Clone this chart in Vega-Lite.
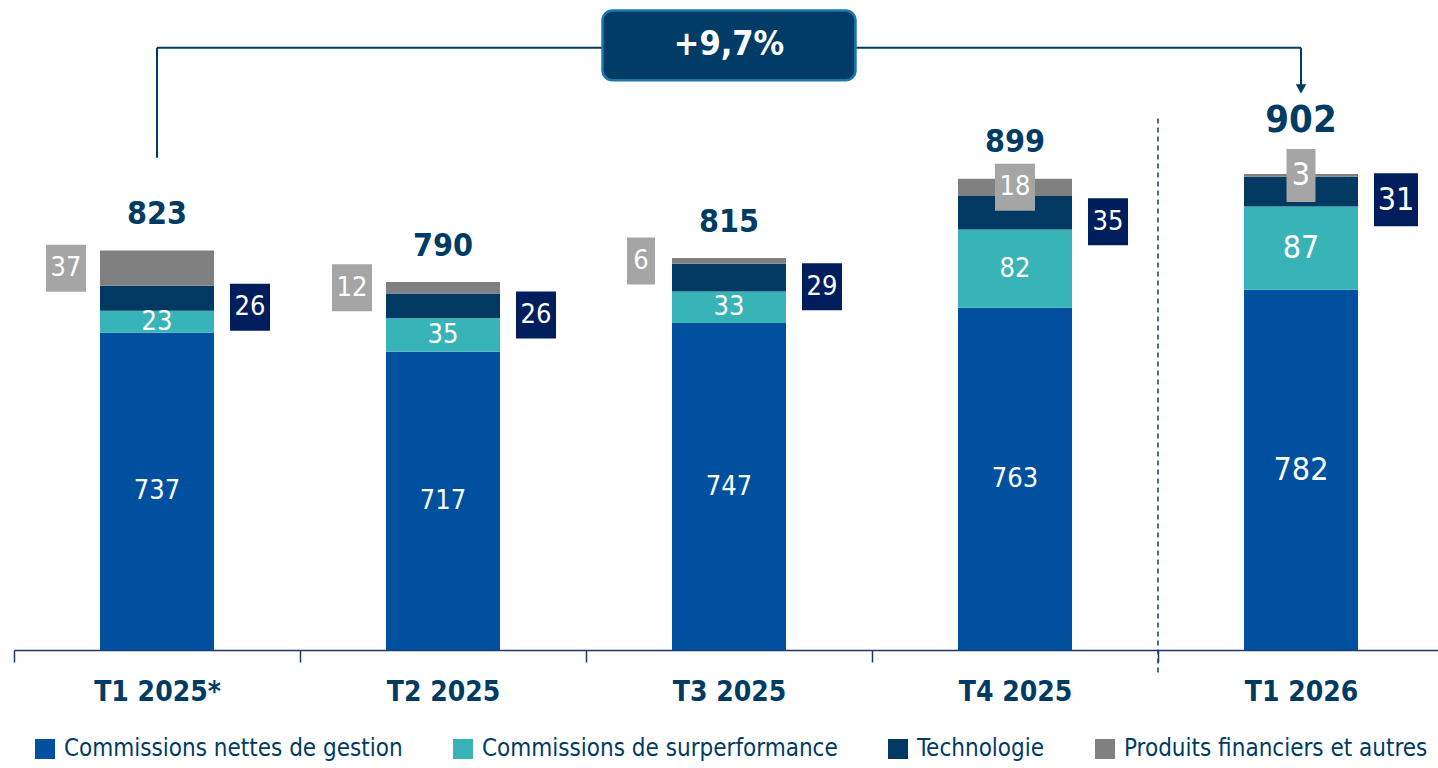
{
  "$schema": "https://vega.github.io/schema/vega-lite/v6.json",
  "width": 1424,
  "height": 650,
  "autosize": {"type": "none"},
  "padding": {"left": 14, "top": 0, "right": 0, "bottom": 118},
  "config": {
    "view": {"stroke": null},
    "font": "DejaVu Sans Condensed, sans-serif",
    "text": {"font": "DejaVu Sans Condensed, sans-serif"}
  },
  "datasets": {
    "bars": [
      {"cat": "T1 2025*", "serie": "Commissions nettes de gestion", "ord": 1, "value": 737},
      {"cat": "T1 2025*", "serie": "Commissions de surperformance", "ord": 2, "value": 23},
      {"cat": "T1 2025*", "serie": "Technologie", "ord": 3, "value": 26},
      {"cat": "T1 2025*", "serie": "Produits financiers et autres", "ord": 4, "value": 37},
      {"cat": "T2 2025", "serie": "Commissions nettes de gestion", "ord": 1, "value": 717},
      {"cat": "T2 2025", "serie": "Commissions de surperformance", "ord": 2, "value": 35},
      {"cat": "T2 2025", "serie": "Technologie", "ord": 3, "value": 26},
      {"cat": "T2 2025", "serie": "Produits financiers et autres", "ord": 4, "value": 12},
      {"cat": "T3 2025", "serie": "Commissions nettes de gestion", "ord": 1, "value": 747},
      {"cat": "T3 2025", "serie": "Commissions de surperformance", "ord": 2, "value": 33},
      {"cat": "T3 2025", "serie": "Technologie", "ord": 3, "value": 29},
      {"cat": "T3 2025", "serie": "Produits financiers et autres", "ord": 4, "value": 6},
      {"cat": "T4 2025", "serie": "Commissions nettes de gestion", "ord": 1, "value": 763},
      {"cat": "T4 2025", "serie": "Commissions de surperformance", "ord": 2, "value": 82},
      {"cat": "T4 2025", "serie": "Technologie", "ord": 3, "value": 35},
      {"cat": "T4 2025", "serie": "Produits financiers et autres", "ord": 4, "value": 18},
      {"cat": "T1 2026", "serie": "Commissions nettes de gestion", "ord": 1, "value": 782},
      {"cat": "T1 2026", "serie": "Commissions de surperformance", "ord": 2, "value": 87},
      {"cat": "T1 2026", "serie": "Technologie", "ord": 3, "value": 31},
      {"cat": "T1 2026", "serie": "Produits financiers et autres", "ord": 4, "value": 3}
    ],
    "totals": [
      {"cat": "T1 2025*", "total": 823},
      {"cat": "T2 2025", "total": 790},
      {"cat": "T3 2025", "total": 815},
      {"cat": "T4 2025", "total": 899},
      {"cat": "T1 2026", "total": 902}
    ],
    "annot": [
      {"from": "T1 2025*", "to": "T1 2026", "box": "T3 2025", "label": "+9,7%"}
    ]
  },
  "layer": [
    {
      "data": {"name": "bars"},
      "transform": [
        {"stack": "value", "groupby": ["cat"], "sort": [{"field": "ord"}], "as": ["y0", "y1"]},
        {"calculate": "(max(datum.y0, 405) + datum.y1) / 2", "as": "mid"}
      ],
      "layer": [
        {
          "mark": {"type": "bar", "width": 114, "clip": true},
          "encoding": {
            "x": {
              "field": "cat", "type": "nominal",
              "scale": {"domain": ["T1 2025*", "T2 2025", "T3 2025", "T4 2025", "T1 2026"], "range": [0, 1430], "paddingInner": 0, "paddingOuter": 0},
              "axis": {
                "title": null, "labelAngle": 0, "labelFontSize": 28, "labelFontWeight": "bold",
                "labelColor": "#003B64", "domainColor": "#1F3A68", "domainWidth": 1.5,
                "tickColor": "#1F3A68", "tickWidth": 1.5, "tickSize": 12, "tickBand": "extent",
                "labelPadding": 16,
                "labelFont": "DejaVu Sans Condensed, sans-serif"
              }
            },
            "y": {"field": "y1", "type": "quantitative", "scale": {"domain": [405, 1085], "zero": false, "nice": false}, "axis": null},
            "y2": {"field": "y0"},
            "color": {
              "field": "serie", "type": "nominal",
              "scale": {
                "domain": ["Commissions nettes de gestion", "Commissions de surperformance", "Technologie", "Produits financiers et autres"],
                "range": ["#0050A0", "#38B3B7", "#003A63", "#808080"]
              },
              "legend": {
                "title": null, "orient": "none", "legendX": 19, "legendY": 737, "direction": "horizontal",
                "symbolType": "square", "symbolSize": 400, "symbolStrokeWidth": 0, "symbolOpacity": 1,
                "labelFontSize": 24, "labelColor": "#003B64", "columnPadding": 48, "labelOffset": 7,
                "labelLimit": 500,
                "labelFont": "DejaVu Sans Condensed, sans-serif"
              }
            }
          }
        },
        {
          "transform": [{"filter": "datum.ord <= 2"}],
          "mark": {"type": "text", "color": "#ffffff"},
          "encoding": {
            "x": {"field": "cat", "type": "nominal", "scale": {"domain": ["T1 2025*", "T2 2025", "T3 2025", "T4 2025", "T1 2026"]}},
            "y": {"field": "mid", "type": "quantitative", "axis": null},
            "text": {"field": "value", "type": "quantitative"},
            "size": {"condition": {"test": "datum.cat === 'T1 2026'", "value": 32}, "value": 27}
          }
        },
        {
          "transform": [{"filter": "datum.ord === 4 && indexof(['T1 2025*','T2 2025','T3 2025'], datum.cat) >= 0"}],
          "mark": {"type": "point", "filled": true, "opacity": 1, "color": "#A5A5A5", "size": 2209},
          "encoding": {
            "x": {"field": "cat", "type": "nominal", "scale": {"domain": ["T1 2025*", "T2 2025", "T3 2025", "T4 2025", "T1 2026"]}},
            "y": {"field": "mid", "type": "quantitative", "axis": null},
            "shape": {"condition": {"test": "datum.value < 10", "value": "M-4.341,-1H-3.149V1H-4.341Z"}, "value": "M-4.723,-1H-3.021V1H-4.723Z"}
          }
        },
        {
          "transform": [{"filter": "datum.ord === 4 && indexof(['T1 2025*','T2 2025'], datum.cat) >= 0"}],
          "mark": {"type": "text", "color": "#ffffff", "dx": -91, "fontSize": 27},
          "encoding": {
            "x": {"field": "cat", "type": "nominal", "scale": {"domain": ["T1 2025*", "T2 2025", "T3 2025", "T4 2025", "T1 2026"]}},
            "y": {"field": "mid", "type": "quantitative", "axis": null},
            "text": {"field": "value", "type": "quantitative"}
          }
        },
        {
          "transform": [{"filter": "datum.ord === 4 && datum.cat === 'T3 2025'"}],
          "mark": {"type": "text", "color": "#ffffff", "dx": -88, "fontSize": 27},
          "encoding": {
            "x": {"field": "cat", "type": "nominal", "scale": {"domain": ["T1 2025*", "T2 2025", "T3 2025", "T4 2025", "T1 2026"]}},
            "y": {"field": "mid", "type": "quantitative", "axis": null},
            "text": {"field": "value", "type": "quantitative"}
          }
        },
        {
          "transform": [{"filter": "datum.ord === 4 && indexof(['T4 2025','T1 2026'], datum.cat) >= 0"}],
          "mark": {"type": "point", "filled": true, "opacity": 1, "color": "#A5A5A5"},
          "encoding": {
            "x": {"field": "cat", "type": "nominal", "scale": {"domain": ["T1 2025*", "T2 2025", "T3 2025", "T4 2025", "T1 2026"]}},
            "y": {"field": "mid", "type": "quantitative", "axis": null},
            "size": {"condition": {"test": "datum.cat === 'T1 2026'", "value": 2809}, "value": 2209},
            "shape": {"condition": {"test": "datum.value < 10", "value": "M-0.547,-1H0.547V1H-0.547Z"}, "value": "M-0.851,-1H0.851V1H-0.851Z"}
          }
        },
        {
          "transform": [{"filter": "datum.ord === 4 && indexof(['T4 2025','T1 2026'], datum.cat) >= 0"}],
          "mark": {"type": "text", "color": "#ffffff"},
          "encoding": {
            "x": {"field": "cat", "type": "nominal", "scale": {"domain": ["T1 2025*", "T2 2025", "T3 2025", "T4 2025", "T1 2026"]}},
            "y": {"field": "mid", "type": "quantitative", "axis": null},
            "text": {"field": "value", "type": "quantitative"},
            "size": {"condition": {"test": "datum.cat === 'T1 2026'", "value": 32}, "value": 27}
          }
        },
        {
          "transform": [{"filter": "datum.ord === 3"}],
          "mark": {"type": "point", "filled": true, "opacity": 1, "color": "#001E5C"},
          "encoding": {
            "x": {"field": "cat", "type": "nominal", "scale": {"domain": ["T1 2025*", "T2 2025", "T3 2025", "T4 2025", "T1 2026"]}},
            "y": {"field": "mid", "type": "quantitative", "axis": null},
            "size": {"condition": {"test": "datum.cat === 'T1 2026'", "value": 2809}, "value": 2209},
            "shape": {"condition": {"test": "datum.cat === 'T1 2026'", "value": "M2.755,-0.698H4.415V1.302H2.755Z"}, "value": "M3.106,-0.617H4.809V1.383H3.106Z"}
          }
        },
        {
          "transform": [{"filter": "datum.ord === 3 && datum.cat !== 'T1 2026'"}],
          "mark": {"type": "text", "color": "#ffffff", "dx": 93, "dy": 9, "fontSize": 27},
          "encoding": {
            "x": {"field": "cat", "type": "nominal", "scale": {"domain": ["T1 2025*", "T2 2025", "T3 2025", "T4 2025", "T1 2026"]}},
            "y": {"field": "mid", "type": "quantitative", "axis": null},
            "text": {"field": "value", "type": "quantitative"}
          }
        },
        {
          "transform": [{"filter": "datum.ord === 3 && datum.cat === 'T1 2026'"}],
          "mark": {"type": "text", "color": "#ffffff", "dx": 95, "dy": 8, "fontSize": 32},
          "encoding": {
            "x": {"field": "cat", "type": "nominal", "scale": {"domain": ["T1 2025*", "T2 2025", "T3 2025", "T4 2025", "T1 2026"]}},
            "y": {"field": "mid", "type": "quantitative", "axis": null},
            "text": {"field": "value", "type": "quantitative"}
          }
        }
      ]
    },
    {
      "data": {"name": "totals"},
      "transform": [{"filter": "datum.cat !== 'T1 2026'"}],
      "mark": {"type": "text", "color": "#003B64", "fontWeight": "bold", "fontSize": 32, "dy": -36},
      "encoding": {
        "x": {"field": "cat", "type": "nominal", "scale": {"domain": ["T1 2025*", "T2 2025", "T3 2025", "T4 2025", "T1 2026"]}},
        "y": {"field": "total", "type": "quantitative", "axis": null},
        "text": {"field": "total", "type": "quantitative"}
      }
    },
    {
      "data": {"name": "totals"},
      "transform": [{"filter": "datum.cat === 'T1 2026'"}],
      "mark": {"type": "text", "color": "#003B64", "fontWeight": "bold", "fontSize": 38, "dy": -54},
      "encoding": {
        "x": {"field": "cat", "type": "nominal", "scale": {"domain": ["T1 2025*", "T2 2025", "T3 2025", "T4 2025", "T1 2026"]}},
        "y": {"field": "total", "type": "quantitative", "axis": null},
        "text": {"field": "total", "type": "quantitative"}
      }
    },
    {
      "data": {"name": "annot"},
      "layer": [
        {
          "mark": {"type": "rule", "color": "#1F3A68", "strokeWidth": 1.5, "strokeDash": [5, 4]},
          "encoding": {
            "x": {"field": "to", "type": "nominal", "bandPosition": 0, "scale": {"domain": ["T1 2025*", "T2 2025", "T3 2025", "T4 2025", "T1 2026"]}},
            "y": {"datum": 961, "type": "quantitative"},
            "y2": {"datum": 379}
          }
        },
        {
          "mark": {"type": "rule", "color": "#003B64", "strokeWidth": 2},
          "encoding": {
            "x": {"field": "from", "type": "nominal", "scale": {"domain": ["T1 2025*", "T2 2025", "T3 2025", "T4 2025", "T1 2026"]}},
            "y": {"datum": 920, "type": "quantitative"},
            "y2": {"datum": 1035}
          }
        },
        {
          "mark": {"type": "rule", "color": "#003B64", "strokeWidth": 2},
          "encoding": {
            "x": {"field": "from", "type": "nominal", "scale": {"domain": ["T1 2025*", "T2 2025", "T3 2025", "T4 2025", "T1 2026"]}},
            "x2": {"field": "to"},
            "y": {"datum": 1035, "type": "quantitative"}
          }
        },
        {
          "mark": {"type": "rule", "color": "#003B64", "strokeWidth": 2},
          "encoding": {
            "x": {"field": "to", "type": "nominal", "scale": {"domain": ["T1 2025*", "T2 2025", "T3 2025", "T4 2025", "T1 2026"]}},
            "y": {"datum": 1035, "type": "quantitative"},
            "y2": {"datum": 996}
          }
        },
        {
          "mark": {"type": "point", "shape": "triangle-down", "filled": true, "opacity": 1, "color": "#003B64", "size": 110},
          "encoding": {
            "x": {"field": "to", "type": "nominal", "scale": {"domain": ["T1 2025*", "T2 2025", "T3 2025", "T4 2025", "T1 2026"]}},
            "y": {"datum": 992, "type": "quantitative"}
          }
        },
        {
          "mark": {"type": "bar", "width": 253, "cornerRadius": 10, "fill": "#003C65", "stroke": "#1B79B2", "strokeWidth": 2.5},
          "encoding": {
            "x": {"field": "box", "type": "nominal", "scale": {"domain": ["T1 2025*", "T2 2025", "T3 2025", "T4 2025", "T1 2026"]}},
            "y": {"datum": 1074, "type": "quantitative"},
            "y2": {"datum": 1001}
          }
        },
        {
          "mark": {"type": "text", "color": "#ffffff", "fontWeight": "bold", "fontSize": 34},
          "encoding": {
            "x": {"field": "box", "type": "nominal", "scale": {"domain": ["T1 2025*", "T2 2025", "T3 2025", "T4 2025", "T1 2026"]}},
            "y": {"datum": 1038, "type": "quantitative"},
            "text": {"field": "label"}
          }
        }
      ]
    }
  ]
}
